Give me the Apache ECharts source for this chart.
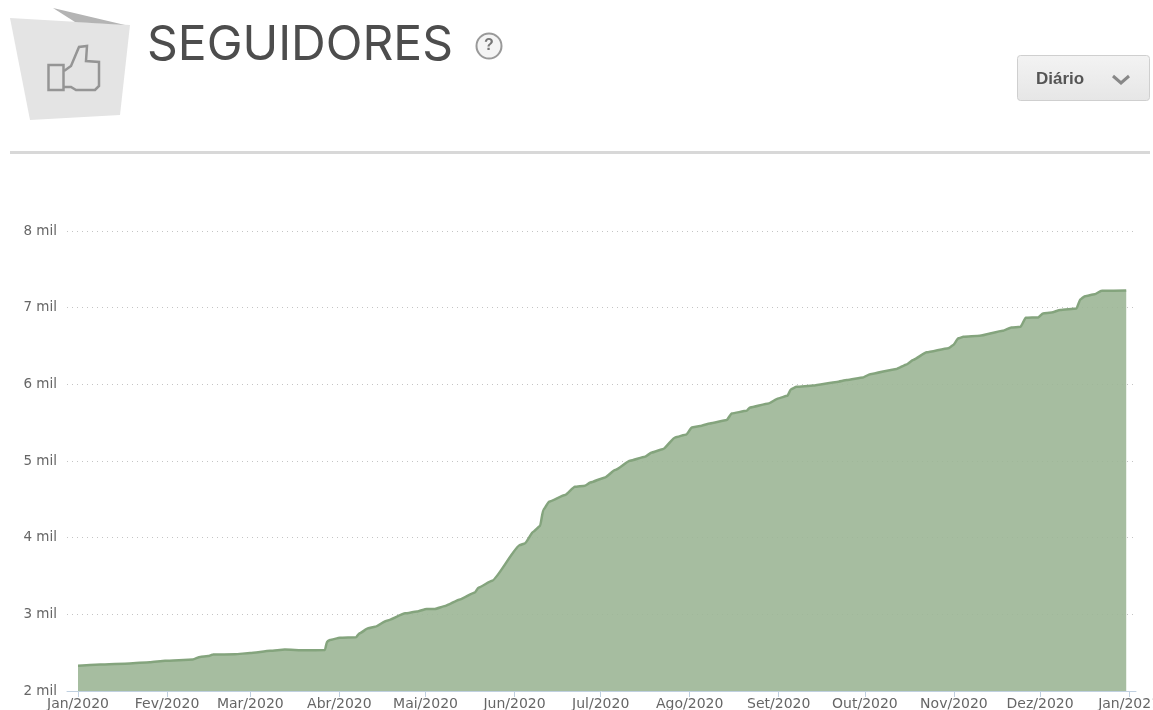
<!DOCTYPE html>
<html><head><meta charset="utf-8">
<style>html,body{margin:0;padding:0;background:#fff}#c{width:1153px;height:710px}</style>
<script src="https://cdn.jsdelivr.net/npm/echarts@6/dist/echarts.min.js"></script>
</head><body><div id="c"></div>
<script>
const days = [0,7.7,18,25,30.3,40,42.5,45.3,47,54.7,59.9,66.9,72,79,86,86.7,87.7,91.2,96.8,98,101,103.4,107.5,113.9,118,121.4,124.3,127.8,133,138.2,139.4,144.2,153.9,155.6,158.5,160.9,162,164,169.6,173,176.5,178.3,183.5,187,192.2,197.4,199.8,203.8,207.9,211.9,213.7,216.6,220,225.9,227.6,232.8,234,240.4,243.8,247,248.2,250.2,256,264.2,267.7,273.4,275.8,285,288.5,290.8,295.5,303,304.8,306.5,308.3,314,322,325,328.2,330,334.4,336,339,342,347.7,349,350.6,354,356.4,365];
const followers = [2330,2345,2360,2375,2395,2410,2445,2455,2475,2480,2495,2525,2540,2530,2535,2643,2665,2695,2700,2752,2817,2838,2917,3013,3036,3070,3070,3109,3195,3286,3347,3438,3904,3925,4078,4152,4361,4469,4556,4664,4678,4718,4786,4882,5003,5056,5110,5157,5308,5347,5438,5456,5490,5535,5620,5655,5698,5750,5815,5850,5933,5967,5985,6032,6055,6090,6133,6200,6260,6318,6417,6470,6513,6600,6620,6633,6698,6742,6750,6868,6873,6925,6937,6970,6990,7107,7150,7176,7220,7225];
const monthTicks = [0,31,60,91,121,152,182,213,244,274,305,335,366];
const monthLabels = ['Jan/2020','Fev/2020','Mar/2020','Abr/2020','Mai/2020','Jun/2020','Jul/2020','Ago/2020','Set/2020','Out/2020','Nov/2020','Dez/2020','Jan/2021'];
const yTicks = [2000,3000,4000,5000,6000,7000,8000];

const chart = echarts.init(document.getElementById('c'), null, {renderer:'canvas'});
chart.setOption({
  animation:false,
  backgroundColor:'#fff',
  title:{text:'SEGUIDORES',left:147,top:16,padding:0,textStyle:{fontFamily:'Inter',fontWeight:400,fontSize:48,color:'#4d4d4d',lineHeight:60}},
  grid:{left:67,right:17,top:231,bottom:19,outerBoundsMode:'none'},
  xAxis:{type:'value',min:-3.83,max:368.4,
    axisLine:{show:true,onZero:false,lineStyle:{color:'#c0d0e0',width:1}},
    axisTick:{show:true,length:6,lineStyle:{color:'#c0d0e0'},customValues:monthTicks},
    splitLine:{show:false},
    axisLabel:{customValues:monthTicks,hideOverlap:false,margin:6,color:'#666',fontFamily:'DejaVu Sans',fontSize:14,
      formatter:v=>monthLabels[monthTicks.indexOf(v)]||''}},
  yAxis:{type:'value',min:2000,max:8000,interval:1000,
    axisLine:{show:false},axisTick:{show:false},
    splitLine:{show:true,lineStyle:{color:'#c4c4c4',type:[1,4],width:1}},
    axisLabel:{margin:10,color:'#666',fontFamily:'DejaVu Sans',fontSize:13.5,padding:[3,0,0,0],
      formatter:v=>yTicks.includes(v)?(v/1000)+' mil':''}},
  series:[{type:'line',data:days.map((d,i)=>[d,followers[i]]),showSymbol:false,smooth:0.15,smoothMonotone:'x',
    lineStyle:{color:'#84a47d',width:2.5},
    areaStyle:{color:'rgb(156,182,150)',opacity:0.9},
    clip:true}],
  graphic:[
    {type:'polygon',silent:true,shape:{points:[[10,18],[130,25],[120,115],[30,120]]},style:{fill:'#e4e4e4'}},
    {type:'polygon',silent:true,shape:{points:[[53,8],[125,25],[75,22]]},style:{fill:'#b4b4b4'}},
    {type:'rect',silent:true,shape:{x:48.5,y:65,width:15,height:25},style:{fill:'none',stroke:'#959595',lineWidth:2.5}},
    {type:'polyline',silent:true,shape:{points:[[64,71],[71,66],[79,47],[87,46],[86,61],[99,62],[99,86],[95,90],[76,90],[71,87],[64,87]]},style:{fill:'none',stroke:'#959595',lineWidth:2.5}},
    {type:'circle',silent:true,shape:{cx:489,cy:46,r:12.5},style:{fill:'#f4f4f4',stroke:'#999',lineWidth:2}},
    {type:'text',silent:true,x:489,y:46,style:{text:'?',fill:'#777',font:'bold 16px "Liberation Sans"',align:'center',verticalAlign:'middle'}},
    {type:'rect',silent:true,shape:{x:10,y:151,width:1140,height:3},style:{fill:'#d8d8d8'}},
    {type:'rect',silent:true,shape:{x:1017.5,y:55.5,width:132,height:45,r:3},style:{fill:new echarts.graphic.LinearGradient(0,0,0,1,[{offset:0,color:'#f3f3f3'},{offset:1,color:'#e6e6e6'}]),stroke:'#cfcfcf',lineWidth:1}},
    {type:'text',silent:true,x:1036,y:79,style:{text:'Diário',fill:'#555',font:'bold 17px "Liberation Sans"',align:'left',verticalAlign:'middle'}},
    {type:'polyline',silent:true,shape:{points:[[1113,76],[1121,83],[1129,76]]},style:{fill:'none',stroke:'#888',lineWidth:3}}
  ]
});
</script></body></html>
